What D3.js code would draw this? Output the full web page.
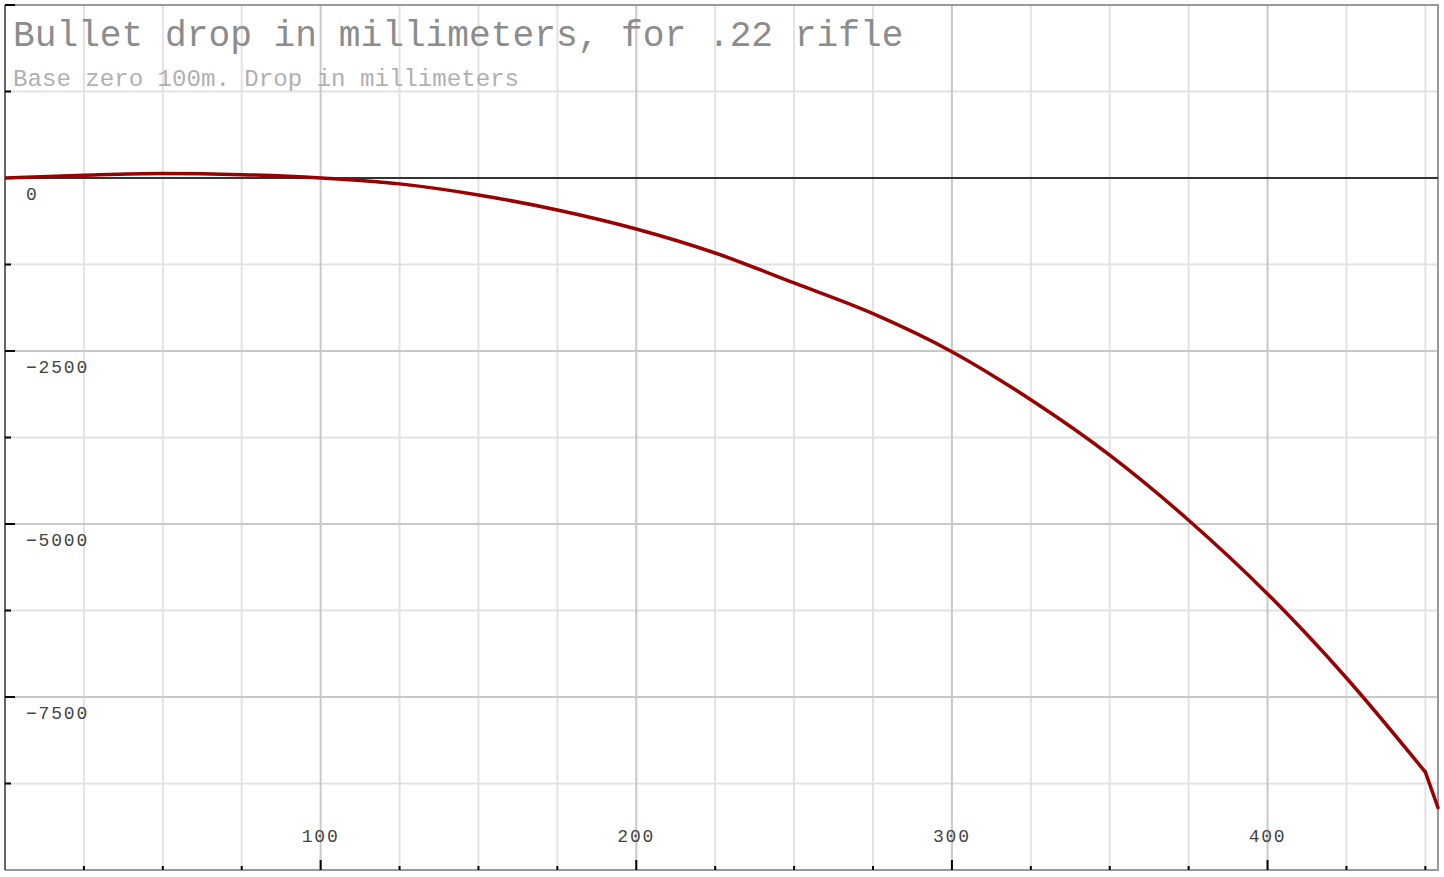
<!DOCTYPE html>
<html>
<head>
<meta charset="utf-8">
<script src="https://cdn.jsdelivr.net/npm/d3@7"></script>
<style>
html,body{margin:0;padding:0;background:#fff;}
svg{display:block;}
</style>
</head>
<body>
<svg id="chart" width="1444" height="877"></svg>
<script>
// ---- data ----
const titleText = "Bullet drop in millimeters, for .22 rifle";
const subtitleText = "Base zero 100m. Drop in millimeters";
const distances = [0, 25, 50, 75, 100, 125, 150, 175, 200, 225, 250, 275, 300, 325, 350, 375, 400, 425, 450, 454];
const drops     = [0, 40, 65, 48, 0, -85, -245, -462, -737, -1084, -1517, -1960, -2510, -3205, -4005, -4945, -6010, -7225, -8585, -9100];
const xMajorTicks = [100, 200, 300, 400];
const xMinorTicks = [25, 50, 75, 125, 150, 175, 225, 250, 275, 325, 350, 375, 425, 450];
const yMajorTicks = [0, -2500, -5000, -7500];
const yMinorTicks = [1250, -1250, -3750, -6250, -8750];
const xDomain = [0, 454];
const yDomain = [-10000, 2500];

// ---- layout ----
const L = 5, R = 1438, T = 5, B = 870;
const svg = d3.select("#chart");
const x = d3.scaleLinear().domain(xDomain).range([L, R]);
const y = d3.scaleLinear().domain(yDomain).range([B, T]);

// grid
const grid = svg.append("g");
grid.selectAll(".vmin").data(xMinorTicks).join("line")
  .attr("x1", d => x(d)).attr("x2", d => x(d)).attr("y1", T).attr("y2", B)
  .attr("stroke", "#e2e2e2").attr("stroke-width", 2);
grid.selectAll(".hmin").data(yMinorTicks).join("line")
  .attr("x1", L).attr("x2", R).attr("y1", d => y(d)).attr("y2", d => y(d))
  .attr("stroke", "#e2e2e2").attr("stroke-width", 2);
grid.selectAll(".vmaj").data(xMajorTicks).join("line")
  .attr("x1", d => x(d)).attr("x2", d => x(d)).attr("y1", T).attr("y2", B)
  .attr("stroke", "#c8c8c8").attr("stroke-width", 2);
grid.selectAll(".hmaj").data(yMajorTicks.filter(d => d !== 0)).join("line")
  .attr("x1", L).attr("x2", R).attr("y1", d => y(d)).attr("y2", d => y(d))
  .attr("stroke", "#c8c8c8").attr("stroke-width", 2);

// frame: top and right
svg.append("line").attr("x1", L).attr("x2", R + 1).attr("y1", T).attr("y2", T)
  .attr("stroke", "#999").attr("stroke-width", 2);
svg.append("line").attr("x1", R).attr("x2", R).attr("y1", T).attr("y2", B)
  .attr("stroke", "#999").attr("stroke-width", 2);

// zero line
svg.append("line").attr("x1", L).attr("x2", R).attr("y1", y(0)).attr("y2", y(0))
  .attr("stroke", "#333").attr("stroke-width", 2);

// bottom axis
svg.append("line").attr("x1", L).attr("x2", R + 1).attr("y1", B).attr("y2", B)
  .attr("stroke", "#999").attr("stroke-width", 2);
svg.selectAll(".xtmaj").data(xMajorTicks).join("line")
  .attr("x1", d => x(d)).attr("x2", d => x(d)).attr("y1", B - 10).attr("y2", B)
  .attr("stroke", "#000").attr("stroke-width", 2);
svg.selectAll(".xtmin").data(xMinorTicks).join("line")
  .attr("x1", d => x(d)).attr("x2", d => x(d)).attr("y1", B - 4).attr("y2", B)
  .attr("stroke", "#000").attr("stroke-width", 2);

// left axis
svg.append("line").attr("x1", L).attr("x2", L).attr("y1", T).attr("y2", B)
  .attr("stroke", "#666").attr("stroke-width", 2);
svg.selectAll(".ytmaj").data(yMajorTicks.concat([2500])).join("line")
  .attr("x1", L).attr("x2", L + 10).attr("y1", d => y(d)).attr("y2", d => y(d))
  .attr("stroke", "#000").attr("stroke-width", 2);
svg.selectAll(".ytmin").data(yMinorTicks).join("line")
  .attr("x1", L).attr("x2", L + 6).attr("y1", d => y(d)).attr("y2", d => y(d))
  .attr("stroke", "#000").attr("stroke-width", 2);

// tick labels
const fmt = d3.format("d");
svg.selectAll(".ylab").data(yMajorTicks).join("text")
  .attr("x", 26).attr("y", d => y(d) + 22)
  .attr("font-family", "'Liberation Mono', monospace").attr("font-size", 18)
  .attr("letter-spacing", 1.8).attr("fill", "#444")
  .text(d => fmt(d));
svg.selectAll(".xlab").data(xMajorTicks).join("text")
  .attr("x", d => x(d)).attr("y", B - 28).attr("text-anchor", "middle")
  .attr("font-family", "'Liberation Mono', monospace").attr("font-size", 18)
  .attr("letter-spacing", 1.8).attr("fill", "#444")
  .text(d => fmt(d));

// title
svg.append("text").attr("x", 13).attr("y", 46)
  .attr("font-family", "'Liberation Mono', 'Courier New', monospace").attr("font-size", 36.2)
  .attr("fill", "#8c8c8c").text(titleText);
svg.append("text").attr("x", 13).attr("y", 86)
  .attr("font-family", "'Liberation Mono', 'Courier New', monospace").attr("font-size", 24.1)
  .attr("fill", "#b0b0b0").text(subtitleText);

// curve
const pts = distances.map((d, i) => [d, drops[i]]);
svg.append("clipPath").attr("id", "clip").append("rect")
  .attr("x", L).attr("y", T).attr("width", R - L + 2).attr("height", B - T);
const smooth = d3.line().x(d => x(d[0])).y(d => y(d[1])).curve(d3.curveMonotoneX);
const straight = d3.line().x(d => x(d[0])).y(d => y(d[1]));
const g = svg.append("g").attr("clip-path", "url(#clip)");
g.append("path").attr("d", smooth(pts.slice(0, pts.length - 1)))
  .attr("fill", "none").attr("stroke", "#990000").attr("stroke-width", 3.5)
  .attr("stroke-linejoin", "round").attr("stroke-linecap", "round");
g.append("path").attr("d", straight(pts.slice(pts.length - 2)))
  .attr("fill", "none").attr("stroke", "#990000").attr("stroke-width", 3.5)
  .attr("stroke-linejoin", "round").attr("stroke-linecap", "round");
</script>
</body>
</html>
